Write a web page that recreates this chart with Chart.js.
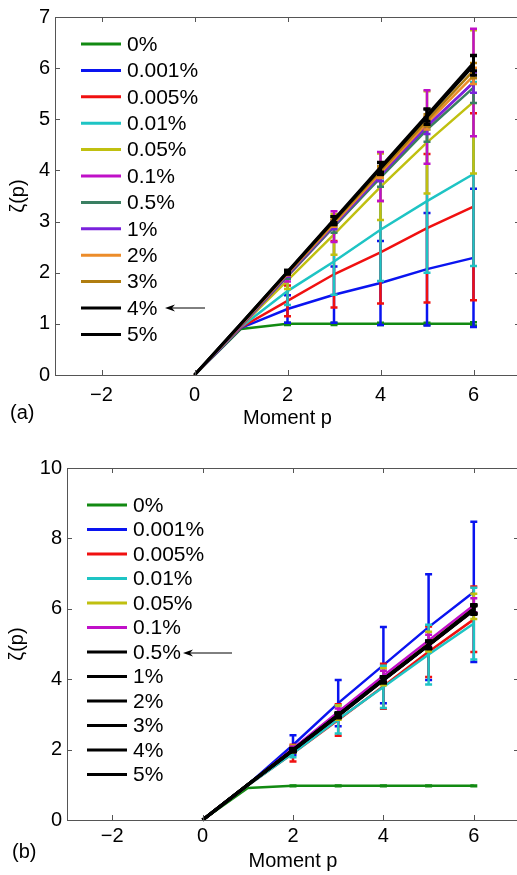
<!DOCTYPE html>
<html>
<head>
<meta charset="utf-8">
<script src="https://cdn.jsdelivr.net/npm/chart.js@4.4.0/dist/chart.umd.min.js"></script>
<style>
  html, body { margin: 0; padding: 0; background: #fff; overflow: hidden; width: 517px; height: 875px; }
  canvas { display: block; }
</style>
</head>
<body>
<canvas id="chartA" width="530" height="430"></canvas>
<canvas id="chartB" width="530" height="445"></canvas>
<script>
// moments p and noise levels
const moments = [0, 1, 2, 3, 4, 5, 6];
const rates = ['0%', '0.001%', '0.005%', '0.01%', '0.05%', '0.1%', '0.5%', '1%', '2%', '3%', '4%', '5%'];
const xTicks = [-2, 0, 2, 4, 6];
const yTicksA = [0, 1, 2, 3, 4, 5, 6, 7];
const yTicksB = [0, 2, 4, 6, 8, 10];

const colorsA = ['#128a12', '#0a14f0', '#f01010', '#1ec4c4', '#c0c010', '#c010c8',
                 '#3a7f62', '#7a22dc', '#ec8c2a', '#b07d10', '#000000', '#000000'];
const colorsB = ['#128a12', '#0a14f0', '#f01010', '#1ec4c4', '#c0c010', '#c010c8',
                 '#000000', '#000000', '#000000', '#000000', '#000000', '#000000'];

// panel (a): zeta(p) per series
const zetaA = [
  [0, 0.90, 1.00, 1.00, 1.00, 1.00, 1.00],
  [0, 0.92, 1.29, 1.57, 1.80, 2.07, 2.29],
  [0, 0.93, 1.45, 1.97, 2.40, 2.87, 3.29],
  [0, 0.94, 1.64, 2.22, 2.84, 3.40, 3.93],
  [0, 0.95, 1.85, 2.75, 3.68, 4.55, 5.34],
  [0, 0.95, 1.93, 2.90, 3.88, 4.85, 5.72],
  [0, 0.96, 1.94, 2.90, 3.86, 4.80, 5.62],
  [0, 0.97, 1.96, 2.93, 3.91, 4.87, 5.72],
  [0, 0.98, 1.98, 2.96, 3.95, 4.93, 5.85],
  [0, 0.99, 1.99, 2.99, 3.99, 4.98, 5.95],
  [0, 1.00, 2.01, 3.02, 4.04, 5.05, 6.05],
  [0, 1.00, 2.02, 3.04, 4.06, 5.08, 6.10]
];
const errA = [
  [0, 0, 0.02, 0.02, 0.02, 0.02, 0.03],
  [0, 0, 0.27, 0.55, 0.82, 1.10, 1.35],
  [0, 0, 0.30, 0.65, 1.00, 1.45, 1.83],
  [0, 0, 0.27, 0.65, 1.00, 1.40, 1.80],
  [0, 0, 0.17, 0.40, 0.65, 1.00, 1.40],
  [0, 0, 0.10, 0.30, 0.48, 0.72, 1.05],
  [0, 0, 0.06, 0.12, 0.18, 0.24, 0.30],
  [0, 0, 0.04, 0.08, 0.12, 0.16, 0.20],
  [0, 0, 0.03, 0.06, 0.10, 0.13, 0.16],
  [0, 0, 0.03, 0.06, 0.09, 0.12, 0.15],
  [0, 0, 0.04, 0.08, 0.12, 0.15, 0.19],
  [0, 0, 0.03, 0.06, 0.09, 0.12, 0.15]
];

// panel (b)
const zetaB = [
  [0, 0.91, 0.97, 0.97, 0.97, 0.97, 0.97],
  [0, 1.00, 2.13, 3.32, 4.40, 5.48, 6.48],
  [0, 0.98, 1.90, 2.84, 3.80, 4.78, 5.70],
  [0, 0.98, 1.90, 2.86, 3.78, 4.70, 5.58],
  [0, 1.00, 2.02, 3.05, 4.07, 5.07, 6.07],
  [0, 1.00, 2.03, 3.07, 4.10, 5.10, 6.10],
  [0, 1.00, 1.97, 2.96, 3.97, 4.96, 5.96],
  [0, 1.00, 1.98, 2.97, 3.98, 4.97, 5.97],
  [0, 1.00, 1.98, 2.97, 3.98, 4.97, 5.98],
  [0, 1.00, 1.99, 2.98, 3.99, 4.98, 5.99],
  [0, 1.00, 1.99, 2.98, 3.99, 4.98, 5.99],
  [0, 1.00, 2.00, 2.99, 4.00, 4.99, 6.00]
];
const errB = [
  [0, 0, 0.01, 0.01, 0.01, 0.01, 0.01],
  [0, 0, 0.28, 0.66, 1.08, 1.50, 1.99],
  [0, 0, 0.24, 0.45, 0.64, 0.72, 0.93],
  [0, 0, 0.12, 0.40, 0.60, 0.85, 1.02],
  [0, 0, 0.10, 0.20, 0.24, 0.28, 0.36],
  [0, 0, 0.06, 0.10, 0.14, 0.16, 0.20],
  [0, 0, 0.04, 0.06, 0.08, 0.10, 0.12],
  [0, 0, 0.04, 0.06, 0.08, 0.10, 0.12],
  [0, 0, 0.04, 0.06, 0.08, 0.10, 0.12],
  [0, 0, 0.04, 0.06, 0.08, 0.10, 0.12],
  [0, 0, 0.04, 0.06, 0.08, 0.10, 0.12],
  [0, 0, 0.04, 0.06, 0.08, 0.10, 0.12]
];

const FONT = '"Liberation Sans", Arial, Helvetica, sans-serif';

// error bars drawn right after each line, so later series sit on top
const errorBars = {
  id: 'errorBars',
  afterDatasetDraw(chart, args) {
    const ds = chart.data.datasets[args.index];
    if (!ds.err) return;
    const xs = chart.scales.x, ys = chart.scales.y, ctx = chart.ctx;
    ctx.save();
    ctx.strokeStyle = ds.borderColor;
    ctx.lineWidth = ds.borderWidth;
    ds.data.forEach((pt, i) => {
      const e = ds.err[i];
      if (!e) return;
      const px = xs.getPixelForValue(pt.x);
      const top = ys.getPixelForValue(pt.y + e);
      const bot = ys.getPixelForValue(pt.y - e);
      ctx.beginPath();
      ctx.moveTo(px, top); ctx.lineTo(px, bot);
      ctx.moveTo(px - 3.5, top); ctx.lineTo(px + 3.5, top);
      ctx.moveTo(px - 3.5, bot); ctx.lineTo(px + 3.5, bot);
      ctx.stroke();
    });
    ctx.restore();
  }
};

// matlab style box with inward ticks
const frame = {
  id: 'frame',
  afterDraw(chart) {
    const { ctx, chartArea: a, scales: { x, y } } = chart;
    ctx.save();
    ctx.strokeStyle = '#555';
    ctx.lineWidth = 1;
    ctx.beginPath();
    ctx.rect(a.left + 0.5, a.top + 0.5, a.right - a.left, a.bottom - a.top);
    x.ticks.forEach(t => {
      const px = Math.round(x.getPixelForValue(t.value)) + 0.5;
      ctx.moveTo(px, a.bottom); ctx.lineTo(px, a.bottom - 5);
      ctx.moveTo(px, a.top); ctx.lineTo(px, a.top + 5);
    });
    y.ticks.forEach(t => {
      const py = Math.round(y.getPixelForValue(t.value)) + 0.5;
      ctx.moveTo(a.left, py); ctx.lineTo(a.left + 5, py);
      ctx.moveTo(a.right, py); ctx.lineTo(a.right - 5, py);
    });
    ctx.stroke();
    ctx.restore();
  }
};

function legendBox(opts) {
  return {
    id: 'legendBox',
    afterDraw(chart) {
      const ctx = chart.ctx;
      ctx.save();
      ctx.font = '21px ' + FONT;
      ctx.textBaseline = 'middle';
      chart.data.datasets.forEach((ds, i) => {
        const yy = opts.y0 + i * opts.dy;
        ctx.strokeStyle = ds.borderColor;
        ctx.lineWidth = 3;
        ctx.beginPath();
        ctx.moveTo(opts.x0, yy); ctx.lineTo(opts.x0 + 40, yy);
        ctx.stroke();
        ctx.fillStyle = '#000';
        ctx.fillText(ds.label, opts.x0 + 46, yy + 1);
      });
      // arrow pointing at the marked entry
      ctx.strokeStyle = '#000';
      ctx.fillStyle = '#000';
      ctx.lineWidth = 1;
      ctx.beginPath();
      ctx.moveTo(opts.ax0 + 4, opts.ay); ctx.lineTo(opts.ax1, opts.ay);
      ctx.stroke();
      ctx.beginPath();
      ctx.moveTo(opts.ax0, opts.ay);
      ctx.lineTo(opts.ax0 + 10, opts.ay - 3.5);
      ctx.lineTo(opts.ax0 + 7, opts.ay);
      ctx.lineTo(opts.ax0 + 10, opts.ay + 3.5);
      ctx.closePath();
      ctx.fill();
      // panel tag
      ctx.font = '20px ' + FONT;
      ctx.textBaseline = 'middle';
      ctx.fillText(opts.tag, opts.tagX, opts.tagY);
      ctx.restore();
    }
  };
}

function makeChart(id, zeta, err, colors, yTicks, yMax, pad, yWidth, axisOpts, legendOpts) {
  const datasets = rates.map((r, i) => ({
    label: r,
    data: moments.map((p, j) => ({ x: p, y: zeta[i][j] })),
    err: err[i],
    borderColor: colors[i],
    backgroundColor: colors[i],
    borderWidth: colors[i] === '#000000' ? 3 : 2.5,
    pointRadius: 0,
    tension: 0,
    clip: false,
    order: rates.length - i
  }));

  return new Chart(document.getElementById(id), {
    type: 'line',
    data: { datasets },
    options: {
      responsive: false,
      animation: false,
      devicePixelRatio: 1,
      layout: { padding: pad },
      plugins: { legend: { display: false }, tooltip: { enabled: false } },
      scales: {
        x: {
          type: 'linear',
          min: -3,
          max: 7,
          grid: { display: false, drawTicks: false },
          border: { display: false },
          afterBuildTicks: s => { s.ticks = xTicks.map(v => ({ value: v })); },
          afterFit: s => { s.height = 55; },
          ticks: {
            color: '#000',
            padding: axisOpts.tickPad,
            font: { family: FONT, size: 20 },
            callback: v => v < 0 ? '\u2212' + Math.abs(v) : String(v)
          },
          title: {
            display: true,
            text: 'Moment p',
            color: '#000',
            font: { family: FONT, size: 20 },
            padding: { top: 0, bottom: axisOpts.xTitlePad }
          }
        },
        y: {
          type: 'linear',
          min: 0,
          max: yMax,
          grid: { display: false, drawTicks: false },
          border: { display: false },
          afterBuildTicks: s => { s.ticks = yTicks.map(v => ({ value: v })); },
          afterFit: s => { s.width = yWidth; },
          ticks: {
            color: '#000',
            padding: 5,
            font: { family: FONT, size: 20 }
          },
          title: {
            display: true,
            text: '\u03b6(p)',
            color: '#000',
            font: { family: FONT, size: 20 },
            padding: { top: axisOpts.yTitlePad, bottom: 0 }
          }
        }
      }
    },
    plugins: [errorBars, frame, legendBox(legendOpts)]
  });
}

makeChart('chartA', zetaA, errA, colorsA, yTicksA, 7,
  { top: 13, right: 10, left: 0, bottom: 0 }, 55,
  { tickPad: 8, xTitlePad: 0, yTitlePad: 6 },
  { x0: 81, y0: 44, dy: 26.4, ax0: 165, ax1: 205, ay: 308, tag: '(a)', tagX: 10, tagY: 413 });

makeChart('chartB', zetaB, errB, colorsB, yTicksB, 10,
  { top: 38, right: 11, left: 0, bottom: 0 }, 67,
  { tickPad: 4, xTitlePad: 2, yTitlePad: 5 },
  { x0: 87, y0: 75, dy: 24.5, ax0: 183, ax1: 232, ay: 223, tag: '(b)', tagX: 12, tagY: 422 });
</script>
</body>
</html>
